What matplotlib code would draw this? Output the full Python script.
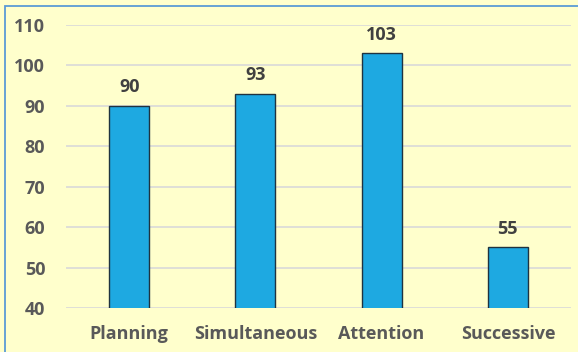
import matplotlib
matplotlib.use("Agg")
import matplotlib.pyplot as plt
from matplotlib.patches import Rectangle

categories = ["Planning", "Simultaneous", "Attention", "Successive"]
values = [90, 93, 103, 55]
yticks = [40, 50, 60, 70, 80, 90, 100, 110]

plt.rcParams['font.family'] = ['Open Sans', 'DejaVu Sans']
bg = "#FFFFCC"
txt = "#595959"

fig = plt.figure(figsize=(5.78, 3.52), dpi=100)
fig.patch.set_facecolor(bg)
fig.patches.append(Rectangle((4.5 / 578, -0.01), 1.02, 1 - 5.5 / 352 + 0.01, transform=fig.transFigure,
                             fill=False, edgecolor="#5B9BD5", linewidth=1.3))

ax = fig.add_axes([66 / 578, 1 - 308 / 352, (571 - 66) / 578, (308 - 25) / 352])
ax.set_facecolor(bg)
x = range(len(categories))
ax.bar(x, values, width=0.317, color="#1EA9E1", edgecolor="#1F3340", linewidth=1.0, zorder=3)
ax.set_xlim(-0.5, len(categories) - 0.5)
ax.set_ylim(40, 110)
ax.set_yticks(yticks)
ax.set_xticks(list(x))
ax.set_xticklabels(categories)
ax.grid(axis="y", color="#D9D9D9", linewidth=1.2, zorder=0)
for s in ax.spines.values():
    s.set_visible(False)
ax.tick_params(length=0, labelsize=13, labelcolor=txt)
ax.tick_params(axis="y", pad=15)
ax.tick_params(axis="x", pad=12)
for lbl in ax.get_xticklabels() + ax.get_yticklabels():
    lbl.set_fontweight("bold")
for xi, v in zip(x, values):
    ax.annotate(str(v), (xi, v), xytext=(0, 7), textcoords="offset points", ha="center", va="bottom",
                fontsize=13, fontweight="bold", color="#404040")

fig.savefig("out.png", dpi=100, facecolor=bg)
